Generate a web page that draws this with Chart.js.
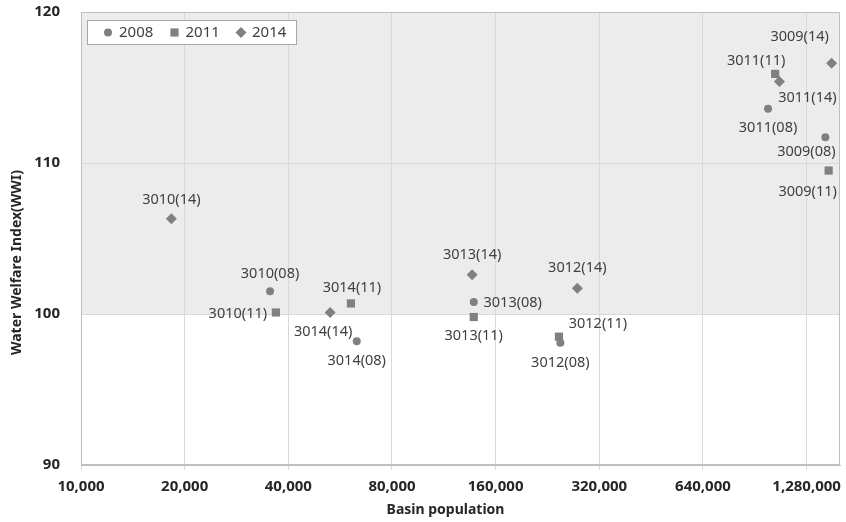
<!DOCTYPE html>
<html>
<head>
<meta charset="utf-8">
<title>Water Welfare Index by basin population</title>
<script src="https://cdn.jsdelivr.net/npm/chart.js@4.4.1/dist/chart.umd.min.js"></script>
<style>
  html, body { margin: 0; padding: 0; background: #fff; }
  canvas { display: block; }
</style>
</head>
<body>
<canvas id="wwiChart" width="846" height="522"></canvas>
<script>
// basins, in the same order for every year
const basins = ["3009", "3010", "3011", "3012", "3013", "3014"];
const years = ["2008", "2011", "2014"];

// basin population per year
const pop2008 = [1451000, 35400, 989000, 246600, 138200, 63200];
const pop2011 = [1483000, 36800, 1037000, 244300, 138200, 60800];
const pop2014 = [1513000, 18300, 1067000, 276300, 136700, 52900];

// water welfare index per year
const wwi2008 = [111.7, 101.5, 113.6, 98.1, 100.8, 98.2];
const wwi2011 = [109.5, 100.1, 115.9, 98.5, 99.8, 100.7];
const wwi2014 = [116.6, 106.3, 115.4, 101.7, 102.6, 100.1];

const xTicks = [10000, 20000, 40000, 80000, 160000, 320000, 640000, 1280000];
const yTicks = [90, 100, 110, 120];

// where each point label sits relative to its marker [dx, dy]
const labelOffsets2008 = [[-19, 15], [0, -17], [0, 19], [0, 20], [39, 1], [0, 20]];
const labelOffsets2011 = [[-21, 21], [-38, 1], [-19, -13], [39, -13], [0, 19], [1, -16]];
const labelOffsets2014 = [[-32, -26], [0, -19], [28, 16], [0, -20], [0, -20], [-7, 19]];

const markerColor = "#808080";
const textColor = "#404040";
const fontFamily = "'Noto Sans', 'DejaVu Sans', sans-serif";

function toPoints(xs, ys) {
  return xs.map((x, i) => ({ x: x, y: ys[i] }));
}

const seriesInfo = [
  { label: years[0], pop: pop2008, wwi: wwi2008, style: "circle", radius: 4, offsets: labelOffsets2008 },
  { label: years[1], pop: pop2011, wwi: wwi2011, style: "rect", radius: 5.8, offsets: labelOffsets2011 },
  { label: years[2], pop: pop2014, wwi: wwi2014, style: "rectRot", radius: 5.5, offsets: labelOffsets2014 },
];

const datasets = seriesInfo.map((s) => ({
  label: s.label,
  data: toPoints(s.pop, s.wwi),
  pointStyle: s.style,
  pointRadius: s.radius,
  pointHoverRadius: s.radius,
  backgroundColor: markerColor,
  borderColor: markerColor,
  borderWidth: 0,
  showLine: false,
}));

// white page, grey band for WWI above 100
const bandPlugin = {
  id: "band",
  beforeDraw(chart) {
    const { ctx, chartArea, scales } = chart;
    ctx.save();
    ctx.fillStyle = "#fff";
    ctx.fillRect(0, 0, chart.width, chart.height);
    const yTop = scales.y.getPixelForValue(120);
    const yBot = scales.y.getPixelForValue(100);
    ctx.fillStyle = "#ececec";
    ctx.fillRect(chartArea.left, yTop, chartArea.right - chartArea.left, yBot - yTop);
    ctx.restore();
  },
  afterDatasetsDraw(chart) {
    const { ctx, chartArea } = chart;
    ctx.save();
    ctx.strokeStyle = "#bfbfbf";
    ctx.lineWidth = 1;
    ctx.strokeRect(chartArea.left + 0.5, chartArea.top + 0.5,
      chartArea.right - chartArea.left - 1, chartArea.bottom - chartArea.top - 1);
    ctx.restore();
  },
};

// basin(year) labels next to each marker
const pointLabelPlugin = {
  id: "pointLabels",
  afterDatasetsDraw(chart) {
    const ctx = chart.ctx;
    ctx.save();
    ctx.font = "14.5px " + fontFamily;
    ctx.fillStyle = textColor;
    ctx.textAlign = "center";
    ctx.textBaseline = "middle";
    seriesInfo.forEach((s, di) => {
      const meta = chart.getDatasetMeta(di);
      meta.data.forEach((pt, i) => {
        const off = s.offsets[i];
        const text = basins[i] + "(" + s.label.slice(2) + ")";
        ctx.fillText(text, pt.x + off[0], pt.y + off[1]);
      });
    });
    ctx.restore();
  },
};

// boxed legend in the top-left corner of the plot, plus axis titles
const legendPlugin = {
  id: "boxLegend",
  afterDraw(chart) {
    const { ctx, chartArea } = chart;
    const x0 = chartArea.left + 6;
    const y0 = chartArea.top + 8;
    ctx.save();
    ctx.fillStyle = "#fff";
    ctx.fillRect(x0, y0, 209, 24);
    ctx.strokeStyle = "#a6a6a6";
    ctx.lineWidth = 1;
    ctx.strokeRect(x0 + 0.5, y0 + 0.5, 209, 24);
    ctx.font = "15px " + fontFamily;
    ctx.textBaseline = "middle";
    ctx.textAlign = "left";
    let x = x0 + 21;
    const cy = y0 + 12.5;
    seriesInfo.forEach((s) => {
      ctx.fillStyle = markerColor;
      Chart.helpers.drawPoint(ctx, { pointStyle: s.style, radius: s.radius, rotation: 0, borderWidth: 0 }, x, cy);
      ctx.fillStyle = textColor;
      ctx.fillText(s.label, x + 11, cy);
      x += 66.5;
    });

    ctx.font = "bold 14px " + fontFamily;
    ctx.fillStyle = "#262626";
    ctx.textAlign = "center";
    ctx.fillText("Basin population", (chartArea.left + chartArea.right) / 2 - 15, 510);
    ctx.translate(17, (chartArea.top + chartArea.bottom) / 2 + 24);
    ctx.rotate(-Math.PI / 2);
    ctx.fillText("Water Welfare Index(WWI)", 0, 0);
    ctx.restore();
  },
};

new Chart(document.getElementById("wwiChart"), {
  type: "scatter",
  data: { datasets: datasets },
  options: {
    responsive: false,
    animation: false,
    events: [],
    layout: { padding: { top: 12, right: 6, left: 0, bottom: 0 } },
    plugins: {
      legend: { display: false },
      tooltip: { enabled: false },
    },
    scales: {
      x: {
        type: "logarithmic",
        min: 10000,
        max: 1600000,
        afterBuildTicks: (scale) => {
          scale.ticks = xTicks.map((v) => ({ value: v }));
        },
        afterFit: (scale) => {
          scale.height = 57;
          scale.paddingLeft = 0;
          scale.paddingRight = 0;
        },
        ticks: {
          autoSkip: false,
          maxRotation: 0,
          padding: 8,
          color: "#262626",
          font: { family: fontFamily, size: 15, weight: "bold" },
          callback: (v) => Number(v).toLocaleString("en-US"),
        },
        grid: { color: "#d9d9d9", tickLength: 5, drawTicks: true },
        border: { color: "#bfbfbf" },
      },
      y: {
        min: 90,
        max: 120,
        afterBuildTicks: (scale) => {
          scale.ticks = yTicks.map((v) => ({ value: v }));
        },
        afterFit: (scale) => {
          scale.width = 81;
          scale.paddingTop = 0;
          scale.paddingBottom = 0;
        },
        ticks: {
          padding: 21,
          color: "#262626",
          font: { family: fontFamily, size: 15, weight: "bold" },
        },
        grid: { color: "#d9d9d9", drawTicks: false },
        border: { color: "#bfbfbf" },
      },
    },
  },
  plugins: [bandPlugin, pointLabelPlugin, legendPlugin],
});
</script>
</body>
</html>
